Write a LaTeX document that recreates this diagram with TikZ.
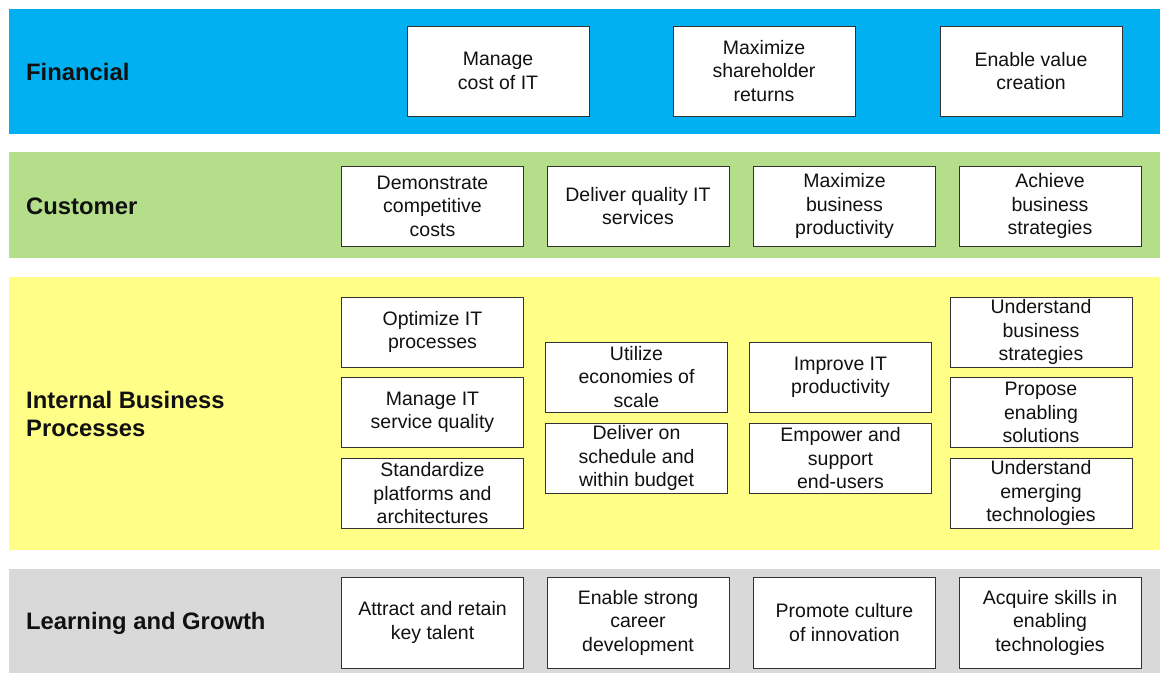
\documentclass[tikz,border=0pt]{standalone}
\usepackage{fontspec}
\setmainfont{Liberation Sans}
\definecolor{finblue}{RGB}{0,176,240}
\definecolor{custgreen}{RGB}{180,222,138}
\definecolor{ibpyellow}{RGB}{255,255,136}
\definecolor{lggray}{RGB}{217,217,217}
\definecolor{boxline}{RGB}{50,50,50}
\definecolor{txt}{RGB}{17,17,17}
\tikzset{
  band/.style={draw=none},
  obj/.style={draw=boxline, line width=0.9pt, fill=white, inner sep=0pt,
    align=center, text=txt, minimum width=182pt,
    font=\fontsize{19.5pt}{23.5pt}\selectfont},
  lbl/.style={anchor=west, align=left, text=txt, inner sep=0pt,
    font=\fontsize{23.8pt}{28pt}\selectfont\bfseries}
}
\begin{document}
\begin{tikzpicture}[x=1pt,y=-1pt]
\useasboundingbox (0,0) rectangle (1160,673);
% bands
\fill[finblue] (9,9) rectangle (1160,134);
\fill[custgreen] (9,152) rectangle (1160,258);
\fill[ibpyellow] (9,277) rectangle (1160,550);
\fill[lggray] (9,569) rectangle (1160,673);
% labels
\node[lbl] (lfin) at (26,72) {Financial};
\node[lbl] (lcus) at (26,206) {Customer};
\node[lbl] (libp) at (26,414) {Internal Business\\Processes};
\node[lbl] (llg) at (26,623) {Learning and Growth};
% financial
\node[obj, minimum height=90pt] (f1) at (498,71) {Manage\\cost of IT};
\node[obj, minimum height=90pt] (f2) at (764,71) {Maximize\\shareholder\\returns};
\node[obj, minimum height=90pt] (f3) at (1031,71) {Enable value\\creation};
% customer
\node[obj, minimum height=80pt] (c1) at (432.5,206) {Demonstrate\\competitive\\costs};
\node[obj, minimum height=80pt] (c2) at (638,206) {Deliver quality IT\\services};
\node[obj, minimum height=80pt] (c3) at (844.5,206) {Maximize\\business\\productivity};
\node[obj, minimum height=80pt] (c4) at (1050,206) {Achieve\\business\\strategies};
% internal business processes
\node[obj, minimum height=70pt] (i1) at (432.5,332) {Optimize IT\\processes};
\node[obj, minimum height=70pt] (i2) at (432.5,412.5) {Manage IT\\service quality};
\node[obj, minimum height=70pt] (i3) at (432.5,493.5) {Standardize\\platforms and\\architectures};
\node[obj, minimum height=70pt] (i4) at (636.5,377) {Utilize\\economies of\\scale};
\node[obj, minimum height=70pt] (i5) at (636.5,458) {Deliver on\\schedule and\\within budget};
\node[obj, minimum height=70pt] (i6) at (840.5,377.5) {Improve IT\\productivity};
\node[obj, minimum height=70pt] (i7) at (840.5,458.5) {Empower and\\support\\end-users};
\node[obj, minimum height=70pt] (i8) at (1041,332) {Understand\\business\\strategies};
\node[obj, minimum height=70pt] (i9) at (1041,412.5) {Propose\\enabling\\solutions};
\node[obj, minimum height=70pt] (i10) at (1041,493) {Understand\\emerging\\technologies};
% learning and growth
\node[obj, minimum height=91pt] (g1) at (432.5,622.5) {Attract and retain\\key talent};
\node[obj, minimum height=91pt] (g2) at (638,622.5) {Enable strong\\career\\development};
\node[obj, minimum height=91pt] (g3) at (844.5,622.5) {Promote culture\\of innovation};
\node[obj, minimum height=91pt] (g4) at (1050,622.5) {Acquire skills in\\enabling\\technologies};
\end{tikzpicture}
\end{document}
